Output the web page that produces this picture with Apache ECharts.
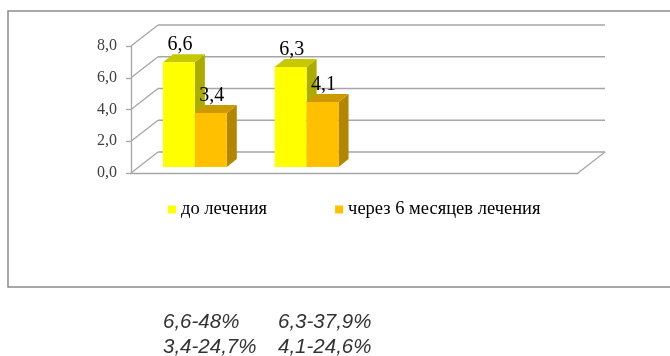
<!DOCTYPE html>
<html>
<head>
<meta charset="utf-8">
<script src="https://cdn.jsdelivr.net/npm/echarts@6/dist/echarts.min.js"></script>
<style>
html,body{margin:0;padding:0;background:#fff;}
#chart{width:670px;height:356px;}
</style>
</head>
<body>
<div id="chart"></div>
<script>
// ---- data ----
const categories = ['1', '2', '3', '4'];
const beforeValues = [6.6, 6.3, null, null];
const afterValues = [3.4, 4.1, null, null];
const seriesNames = ['до лечения', 'через 6 месяцев лечения'];
const yTicks = [0, 2, 4, 6, 8];
const noteLines = [['6,6-48%', '6,3-37,9%'], ['3,4-24,7%', '4,1-24,6%']];

// ---- style constants ----
const WALL = {x: 27, y: -21};     // depth of the floor / side wall
const FRONT = {x: 8, y: -6};      // bar front-face offset into the depth
const DEPTH = {x: 10, y: -8};     // depth of each bar
const GRID_COLOR = '#a6a6a6';
const fmt = v => v.toFixed(1).replace('.', ',');

const colors = [
  {front: '#ffff00', top: '#c8c800', side: '#acac00'},
  {front: '#ffc000', top: '#cc9a00', side: '#b38600'}
];

function barRenderer(s) {
  return function (params, api) {
    const idx = api.value(0), v = api.value(1);
    const base = api.coord([idx, 0]);
    const topP = api.coord([idx, v]);
    const band = api.size([1, 0])[0];
    const w = band * 2 / 7;
    const x0 = base[0] + (s - 1) * w + FRONT.x;
    const x1 = x0 + w;
    const yt = topP[1] + FRONT.y;
    const yb = base[1] + FRONT.y;
    const c = colors[s];
    return {
      type: 'group',
      children: [
        {type: 'polygon', shape: {points: [[x1, yt], [x1 + DEPTH.x, yt + DEPTH.y], [x1 + DEPTH.x, yb + DEPTH.y], [x1, yb]]}, style: {fill: c.side}},
        {type: 'polygon', shape: {points: [[x0, yt], [x1, yt], [x1 + DEPTH.x, yt + DEPTH.y], [x0 + DEPTH.x, yt + DEPTH.y]]}, style: {fill: c.top}},
        {type: 'rect', shape: {x: x0, y: yt, width: w, height: yb - yt}, style: {fill: c.front}},
        {type: 'text', style: {text: fmt(v), x: (x0 + x1) / 2 + 1, y: yt - 17, textAlign: 'center', textVerticalAlign: 'middle', font: '20px "Liberation Serif"', fill: '#000'}}
      ]
    };
  };
}

function wallRenderer(params, api) {
  const t = api.value(1);
  const cs = params.coordSys;
  const y = api.coord([0, t])[1];
  const xl = cs.x, xr = cs.x + cs.width;
  const ls = {stroke: GRID_COLOR, lineWidth: 1.3};
  const children = [
    {type: 'line', shape: {x1: xl, y1: y, x2: xl + WALL.x, y2: y + WALL.y}, style: ls},
    {type: 'line', shape: {x1: xl + WALL.x, y1: y + WALL.y, x2: xr + WALL.x, y2: y + WALL.y}, style: ls}
  ];
  if (t === 0) {
    children.push({type: 'line', shape: {x1: xr, y1: y, x2: xr + WALL.x, y2: y + WALL.y}, style: ls});
  }
  return {type: 'group', children: children};
}

const chart = echarts.init(document.getElementById('chart'));
chart.setOption({
  animation: false,
  backgroundColor: '#fff',
  grid: {left: 131, right: 92, top: 46, bottom: 183},
  xAxis: {
    type: 'category', data: categories,
    axisLine: {lineStyle: {color: GRID_COLOR, width: 1.3}},
    axisTick: {show: false}, axisLabel: {show: false}, splitLine: {show: false}
  },
  yAxis: {
    type: 'value', min: 0, max: 8, interval: 2,
    axisLine: {show: true, lineStyle: {color: GRID_COLOR, width: 1.3}},
    axisTick: {show: true, length: 5, lineStyle: {color: GRID_COLOR, width: 1.3}},
    splitLine: {show: false},
    axisLabel: {formatter: fmt, margin: 14, color: '#404040', fontFamily: 'Liberation Serif', fontSize: 16}
  },
  legend: {
    data: seriesNames, left: 163, top: 195, itemGap: 68, icon: 'rect', itemWidth: 8, itemHeight: 8,
    textStyle: {fontFamily: 'Liberation Serif', fontSize: 18.5, color: '#000'}
  },
  graphic: [
    {type: 'rect', shape: {x: 8, y: 11, width: 700, height: 276}, style: {fill: 'none', stroke: '#8c8c8c', lineWidth: 1.5}, z: -1},
    {type: 'text', left: 163, top: 312, style: {text: noteLines[0][0], font: 'italic 20.5px "Liberation Sans"', fill: '#333'}},
    {type: 'text', left: 278, top: 312, style: {text: noteLines[0][1], font: 'italic 20.5px "Liberation Sans"', fill: '#333'}},
    {type: 'text', left: 163, top: 337, style: {text: noteLines[1][0], font: 'italic 20.5px "Liberation Sans"', fill: '#333'}},
    {type: 'text', left: 278, top: 337, style: {text: noteLines[1][1], font: 'italic 20.5px "Liberation Sans"', fill: '#333'}}
  ],
  series: [
    {type: 'custom', name: 'walls', renderItem: wallRenderer, data: yTicks.map(t => [0, t]), silent: true, z: 1},
    {type: 'custom', name: seriesNames[0], itemStyle: {color: colors[0].front}, renderItem: barRenderer(0),
     data: beforeValues.map((v, i) => [i, v]).filter(d => d[1] !== null), z: 2},
    {type: 'custom', name: seriesNames[1], itemStyle: {color: colors[1].front}, renderItem: barRenderer(1),
     data: afterValues.map((v, i) => [i, v]).filter(d => d[1] !== null), z: 3}
  ]
});
</script>
</body>
</html>
